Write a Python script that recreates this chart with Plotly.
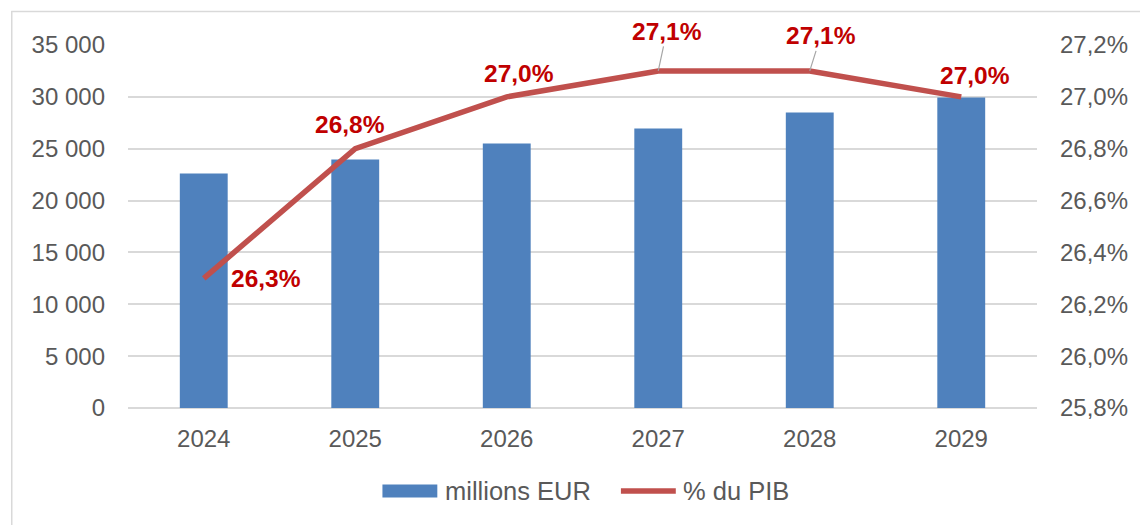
import plotly.graph_objects as go

years = [2024, 2025, 2026, 2027, 2028, 2029]
millions_eur = [22600, 23950, 25500, 26950, 28500, 29950]
pct_pib = [26.3, 26.8, 27.0, 27.1, 27.1, 27.0]
pct_labels = ["26,3%", "26,8%", "27,0%", "27,1%", "27,1%", "27,0%"]
series_names = ["millions EUR", "% du PIB"]

FONT = "Liberation Sans, Arial, sans-serif"
GRAY = "#595959"
GRID = "#D9D9D9"
BLUE = "#4F81BD"
RED = "#C0504D"

fig = go.Figure()
fig.add_trace(go.Bar(
    x=years, y=millions_eur, name=series_names[0],
    marker=dict(color=BLUE, line=dict(width=0)),
    yaxis="y", showlegend=False, width=0.316,
))
fig.add_trace(go.Scatter(
    x=years, y=pct_pib, name=series_names[1], mode="lines",
    line=dict(color=RED, width=5.5),
    yaxis="y2", showlegend=False,
))

# label placement (pixel offsets) per point
label_pos = [
    dict(xshift=25, yshift=0, xanchor="left", arrow=False),
    dict(xshift=-5, yshift=24, xanchor="center", arrow=False),
    dict(xshift=12, yshift=23, xanchor="center", arrow=False),
    dict(ax=8.5, ay=-39.5, arrow=True),
    dict(ax=11, ay=-35, arrow=True),
    dict(xshift=14, yshift=21, xanchor="center", arrow=False),
]
for yr, v, t, p in zip(years, pct_pib, pct_labels, label_pos):
    a = dict(x=yr, y=v, xref="x", yref="y2", text="<b>" + t + "</b>",
             font=dict(size=24.5, color="#C00000"))
    if p["arrow"]:
        a.update(showarrow=True, arrowhead=0, arrowwidth=1.2, arrowcolor="#A6A6A6",
                 ax=p["ax"], ay=p["ay"], standoff=0)
    else:
        a.update(showarrow=False, xanchor=p["xanchor"], yanchor="middle",
                 xshift=p["xshift"], yshift=p["yshift"])
    fig.add_annotation(**a)

W, H = 1140, 525
L, R, T, B = 128, 101, 45, 117
pw, ph = W - L - R, H - T - B
def px(x):
    return (x - L) / pw
def py(y):
    return (H - B - y) / ph

shapes = [
    dict(type="line", xref="paper", yref="paper", x0=px(11), x1=px(1145), y0=py(11.5), y1=py(11.5),
         line=dict(color=GRID, width=1.5)),
    dict(type="line", xref="paper", yref="paper", x0=px(11.5), x1=px(11.5), y0=py(11), y1=py(530),
         line=dict(color=GRID, width=1.5)),
    # legend symbols
    dict(type="rect", xref="paper", yref="paper", x0=px(383), x1=px(438), y0=py(497.5), y1=py(484.5),
         fillcolor=BLUE, line=dict(width=0)),
    dict(type="line", xref="paper", yref="paper", x0=px(622), x1=px(677), y0=py(491), y1=py(491),
         line=dict(color=RED, width=5.5)),
]
fig.add_annotation(xref="paper", yref="paper", x=px(444), y=py(491), text=series_names[0],
                   showarrow=False, xanchor="left", yanchor="middle",
                   font=dict(size=25.5, color=GRAY))
fig.add_annotation(xref="paper", yref="paper", x=px(682), y=py(491), text=series_names[1],
                   showarrow=False, xanchor="left", yanchor="middle",
                   font=dict(size=25.5, color=GRAY))

fig.update_layout(
    width=W, height=H,
    margin=dict(l=L, r=R, t=T, b=B),
    paper_bgcolor="white", plot_bgcolor="white",
    separators=", ",
    font=dict(family=FONT, size=24, color=GRAY),
    showlegend=False,
    xaxis=dict(range=[2023.5, 2029.5], tickmode="array", tickvals=years,
               tickformat="d", showgrid=False, showline=False,
               ticks="", ticklabelstandoff=14, tickfont=dict(size=24, color=GRAY)),
    yaxis=dict(range=[0, 35000], dtick=5000, tickformat=",d", showgrid=True,
               gridcolor=GRID, gridwidth=1.5, zeroline=True, zerolinecolor=GRID,
               zerolinewidth=1.5, showline=False, ticks="", ticklabelstandoff=22,
               tickfont=dict(size=24, color=GRAY)),
    yaxis2=dict(range=[25.8, 27.2], dtick=0.2, tickformat=".1f", ticksuffix="%",
                overlaying="y", side="right", showgrid=False, zeroline=False,
                showline=False, ticks="", ticklabelstandoff=22,
                tickfont=dict(size=24, color=GRAY)),
    shapes=shapes,
)

fig.write_html("out.html", config={"displayModeBar": False},
               post_script="document.body.style.margin='0';document.body.style.overflow='hidden';")
